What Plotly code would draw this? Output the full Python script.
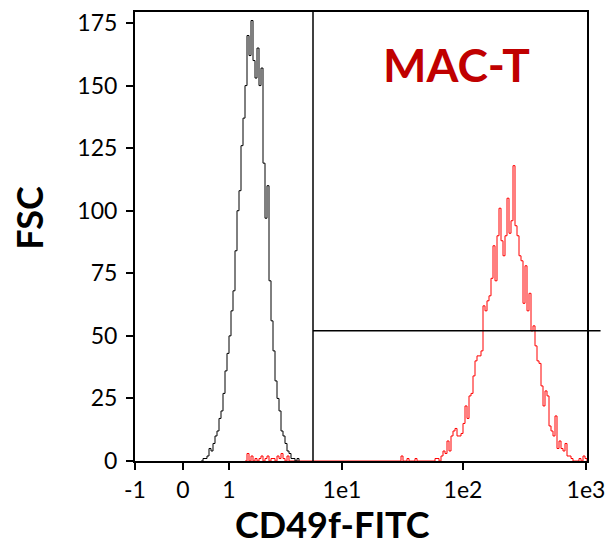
import numpy as np
import plotly.graph_objects as go

# display channel scale (biexponential-like), tick positions and labels
tick_pos = [0, 48, 94, 207, 328, 451]
tick_text = ["-1", "0", "1", "1e1", "1e2", "1e3"]

# unstained / control histogram (black), 2-channel bins starting at 66
black_start = 66
black_counts = [0, 1, 1, 2, 5, 4, 7, 10, 12, 17, 20, 27, 36, 43, 50, 60, 68, 84,
                100, 108, 126, 137, 150, 170, 162, 176, 160, 153, 165, 150, 157,
                119, 97, 110, 72, 56, 44, 32, 25, 20, 12, 10, 7, 4, 3, 1, 1, 0, 1, 0]

# CD49f-FITC stained MAC-T histogram (red): sparse events at low channels
red_low_start = 110
red_low_counts = [0, 3, 0, 2, 0, 1, 0, 1, 2, 0, 1, 2, 0, 1, 1, 0, 2, 1, 3, 1, 0, 2]

# main positive peak, 2-channel bins starting at 264
red_main_start = 264
red_main_counts = [0, 2, 0, 0, 1, 0, 0, 0, 1, 0, 0, 0, 0, 0, 0, 0,
                   0, 0, 1, 1, 0, 2, 4, 3, 8, 4, 10, 12, 13, 10, 10, 11, 15, 22,
                   17, 26, 27, 34, 40, 42, 42, 44, 62, 60, 64, 66, 73, 86, 72, 90,
                   101, 88, 82, 90, 105, 91, 96, 118, 94, 90, 82, 80, 63, 78, 60,
                   67, 52, 54, 46, 40, 39, 30, 22, 28, 26, 14, 12, 10, 18, 5, 8, 5,
                   4, 7, 2, 2, 1, 0, 0, 0, 1, 0, 2, 1, 0, 1]

# gate positions
gate_x = 178
gate_y = 52

black_x = black_start + 2 * np.arange(len(black_counts))

# put both red segments on one channel grid
red_x = np.arange(red_low_start, 456, 2)
red_y = np.zeros(len(red_x))
red_y[:len(red_low_counts)] = red_low_counts
i1 = (red_main_start - red_low_start) // 2
red_y[i1:i1 + len(red_main_counts)] = red_main_counts[:len(red_y) - i1]

fig = go.Figure()
fig.add_trace(go.Scatter(x=red_x, y=red_y, mode="lines",
                         line=dict(color="#ff0000", width=1, shape="hv")))
fig.add_trace(go.Scatter(x=black_x, y=black_counts, mode="lines",
                         line=dict(color="black", width=1, shape="hv")))

# gates
fig.add_shape(type="line", xref="x", yref="paper", x0=gate_x, x1=gate_x,
              y0=0, y1=1, line=dict(color="black", width=1.5))
fig.add_shape(type="line", xref="paper", yref="y", x0=gate_x / 452, x1=1.03,
              y0=gate_y, y1=gate_y, line=dict(color="black", width=1.5))

font = "Lato, 'Open Sans', sans-serif"
fig.add_annotation(text="<b>MAC-T</b>", xref="paper", yref="paper", x=0.712, y=0.882,
                   xanchor="center", yanchor="middle", showarrow=False,
                   font=dict(family=font, size=46, color="#c00000"))
fig.add_annotation(text="<b>CD49f-FITC</b>", xref="paper", yref="paper", x=0.436, y=-0.14,
                   xanchor="center", yanchor="middle", showarrow=False,
                   font=dict(family=font, size=36, color="black"))
fig.add_annotation(text="<b>FSC</b>", xref="paper", yref="paper", x=-0.235, y=0.541,
                   xanchor="center", yanchor="middle", textangle=-90, showarrow=False,
                   font=dict(family=font, size=36, color="black"))

fig.update_layout(
    width=608, height=546,
    margin=dict(l=135, r=21, t=12, b=85),
    paper_bgcolor="white", plot_bgcolor="white",
    showlegend=False,
    font=dict(family=font, size=23, color="black"),
)
fig.update_xaxes(range=[0, 452], tickmode="array", tickvals=tick_pos, ticktext=tick_text,
                 showgrid=False, zeroline=False, showline=True, linecolor="black",
                 linewidth=2, mirror=True, ticks="outside", ticklen=7, tickwidth=1.5,
                 tickcolor="black", automargin=False)
fig.update_yaxes(range=[0, 179.4], tickmode="array", tickvals=list(range(0, 176, 25)),
                 showgrid=False, zeroline=False, showline=True, linecolor="black",
                 linewidth=2, mirror=True, ticks="outside", ticklen=7, tickwidth=1.5,
                 tickcolor="black", automargin=False, ticklabelstandoff=4)

fig.write_html("out.html", config={"displayModeBar": False},
               post_script="document.body.style.margin='0';document.body.style.overflow='hidden';")
